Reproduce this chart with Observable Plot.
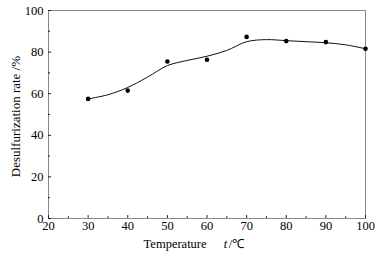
<!DOCTYPE html>
<html><head><meta charset="utf-8">
<script src="https://cdn.jsdelivr.net/npm/d3@7"></script>
<script src="https://cdn.jsdelivr.net/npm/@observablehq/plot@0.6"></script>
<style>body{margin:0;background:#fff}</style>
</head><body><div id="chart"></div>
<script>
const temps = [30, 40, 50, 60, 70, 80, 90, 100];
const rates = [57.5, 61.5, 75.5, 76.3, 87.3, 85.3, 84.8, 81.6];
const fitTemps = [30, 35, 40, 45, 50, 55, 60, 65, 70, 75, 80, 85, 90, 95, 100];
const fitRates = [57.5, 59.5, 63, 68, 73.5, 76, 78, 80.8, 85, 86, 85.5, 85, 84.5, 83.5, 81.6];
const xTicks = [20, 30, 40, 50, 60, 70, 80, 90, 100];
const xMinor = [25, 35, 45, 55, 65, 75, 85, 95];
const yTicks = [0, 20, 40, 60, 80, 100];
const yMinor = [10, 30, 50, 70, 90];

const points = temps.map((t, i) => ({t, r: rates[i]}));
const fit = fitTemps.map((t, i) => ({t, r: fitRates[i]}));

const chart = Plot.plot({
  width: 382, height: 254,
  marginLeft: 48, marginTop: 10, marginRight: 17, marginBottom: 36,
  style: {fontFamily: "'Liberation Serif', 'Times New Roman', serif", fontSize: "12.5px", color: "#000", background: "#fff"},
  x: {domain: [20, 100]},
  y: {domain: [0, 100]},
  marks: [
    Plot.frame({stroke: "#888"}),
    Plot.ruleX(xTicks, {x: d => d, y1: 0, y2: 1.4, stroke: "#222"}),
    Plot.ruleX(xMinor, {x: d => d, y1: 0, y2: 0.9, stroke: "#222"}),
    Plot.ruleY(yTicks, {y: d => d, x1: 20, x2: 20.8, stroke: "#222"}),
    Plot.ruleY(yMinor, {y: d => d, x1: 20, x2: 20.5, stroke: "#222"}),
    Plot.axisX(xTicks, {tickSize: 0, tickPadding: 3, label: null, fontSize: 12.5}),
    Plot.axisY(yTicks, {tickSize: 0, tickPadding: 5, label: null, fontSize: 12.5}),
    Plot.line(fit, {x: "t", y: "r", curve: "catmull-rom", stroke: "#111", strokeWidth: 1}),
    Plot.dot(points, {x: "t", y: "r", r: 2.3, fill: "#000", stroke: null}),
    Plot.text(["Desulfurization rate /%"], {frameAnchor: "left", y: 49, dx: -33, rotate: -90, textAnchor: "middle", text: d => d, fontSize: 13}),
    Plot.text(["Temperature"], {frameAnchor: "bottom", x: 44, dy: 25, textAnchor: "start", lineAnchor: "middle", text: d => d, fontSize: 12.5}),
    Plot.text(["t"], {frameAnchor: "bottom", x: 64.2, dy: 25, textAnchor: "start", lineAnchor: "middle", text: d => d, fontSize: 12.5, fontStyle: "italic"}),
    Plot.text(["/℃"], {frameAnchor: "bottom", x: 65.5, dy: 25, textAnchor: "start", lineAnchor: "middle", text: d => d, fontSize: 12.5})
  ]
});
document.getElementById("chart").append(chart);
</script></body></html>
